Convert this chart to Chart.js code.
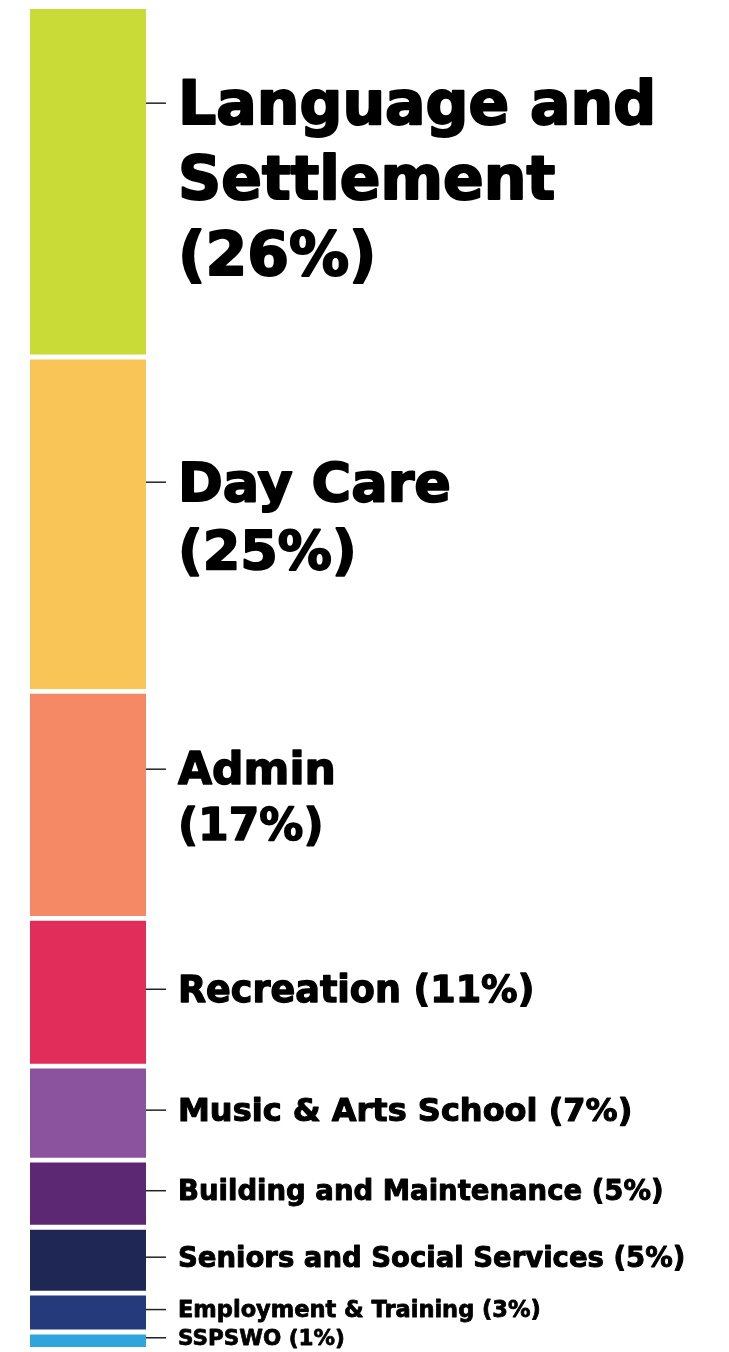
<!DOCTYPE html>
<html lang="en">
<head>
    <meta charset="UTF-8">
    <title>Budget Breakdown</title>
    <script src="https://cdn.jsdelivr.net/npm/chart.js"></script>
    <style>
        html, body { margin: 0; padding: 0; background: #fff; }
        #wrap { position: relative; width: 729px; height: 1352px; }
    </style>
</head>
<body>
    <div id="wrap">
        <canvas id="budgetChart"></canvas>
    </div>

    <script>
        // categories, top to bottom
        const categories = [
            'Language and Settlement', 'Day Care', 'Admin', 'Recreation',
            'Music & Arts School', 'Building and Maintenance',
            'Seniors and Social Services', 'Employment & Training', 'SSPSWO'
        ];
        // share of the budget
        const values = [26.1, 24.9, 16.9, 11.0, 7.0, 5.0, 4.9, 2.9, 1.3];
        // rounded percentages as printed
        const shownPct = ['26%', '25%', '17%', '11%', '7%', '5%', '5%', '3%', '1%'];
        // printed label lines
        const labelLines = [
            ['Language and', 'Settlement', '(26%)'],
            ['Day Care', '(25%)'],
            ['Admin', '(17%)'],
            ['Recreation (11%)'],
            ['Music & Arts School (7%)'],
            ['Building and Maintenance (5%)'],
            ['Seniors and Social Services (5%)'],
            ['Employment & Training (3%)'],
            ['SSPSWO (1%)']
        ];
        const colors = ['#C9DB37', '#F9C557', '#F58865', '#E02D5A', '#8B529E',
                        '#5C2874', '#1F2855', '#243A7B', '#2EA6DD'];
        const fontSizes = [60, 54, 44, 36.5, 32, 27.5, 27.5, 22.5, 21.5];

        // labels with tick lines to the right of the bar
        const sideLabels = {
            id: 'sideLabels',
            afterDatasetsDraw(chart) {
                const ctx = chart.ctx;
                ctx.save();
                chart.data.datasets.forEach((ds, i) => {
                    const bar = chart.getDatasetMeta(i).data[0];
                    if (!bar) return;
                    const right = bar.x + bar.width / 2;
                    const mid = (bar.y + bar.base) / 2;
                    const size = fontSizes[i];
                    const lh = size * 1.26;
                    const lines = labelLines[i];
                    const shift = lines.length === 2 ? 8 : 3;
                    const tickY = mid - (lines.length - 1) * lh / 2 - shift;

                    ctx.strokeStyle = '#222';
                    ctx.lineWidth = 1.5;
                    ctx.beginPath();
                    ctx.moveTo(right, tickY);
                    ctx.lineTo(right + 20, tickY);
                    ctx.stroke();

                    ctx.fillStyle = '#000';
                    ctx.strokeStyle = '#000';
                    ctx.lineWidth = size * 0.035;
                    ctx.lineJoin = 'round';
                    ctx.font = 'bold ' + size + 'px "DejaVu Sans"';
                    ctx.textAlign = 'left';
                    ctx.textBaseline = 'alphabetic';
                    lines.forEach((t, k) => {
                        const by = tickY + size * 0.34 + k * lh;
                        ctx.fillText(t, right + 32, by);
                        ctx.strokeText(t, right + 32, by);
                    });
                });
                ctx.restore();
            }
        };

        const ctx = document.getElementById('budgetChart').getContext('2d');
        new Chart(ctx, {
            type: 'bar',
            data: {
                labels: ['Budget'],
                datasets: categories.map((name, i) => ({
                    label: name + ' (' + shownPct[i] + ')',
                    data: [values[i]],
                    backgroundColor: colors[i],
                    borderColor: '#ffffff',
                    borderWidth: { top: 2.75, bottom: 2.75, left: 0, right: 0 },
                    borderSkipped: false,
                    categoryPercentage: 1,
                    barPercentage: 1
                }))
            },
            options: {
                responsive: true,
                maintainAspectRatio: false,
                animation: false,
                layout: { padding: { left: 30, right: 583, top: 6.5, bottom: 2.5 } },
                plugins: {
                    legend: { display: false },
                    tooltip: { enabled: false }
                },
                scales: {
                    x: { stacked: true, display: false },
                    y: { stacked: true, display: false, reverse: true, min: 0, max: 100 }
                }
            },
            plugins: [sideLabels]
        });
    </script>
</body>
</html>
